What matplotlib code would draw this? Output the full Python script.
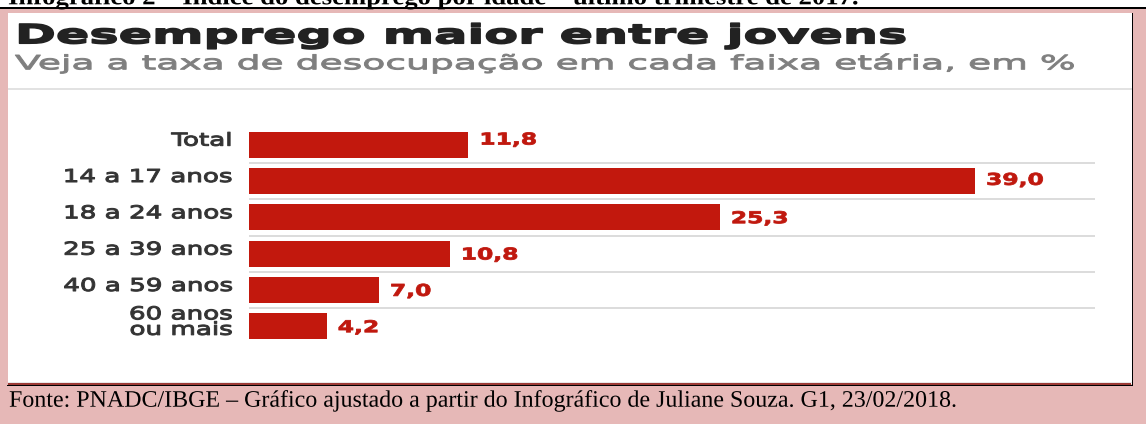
import matplotlib
matplotlib.use("Agg")
import matplotlib.pyplot as plt
from matplotlib.patches import Rectangle
from matplotlib.patheffects import AbstractPathEffect
from matplotlib.transforms import Affine2D, ScaledTranslation

# ---------------- data ----------------
categories = ["Total", "14 a 17 anos", "18 a 24 anos", "25 a 39 anos",
              "40 a 59 anos", "60 anos\nou mais"]
values = [11.8, 39.0, 25.3, 10.8, 7.0, 4.2]
value_labels = ["11,8", "39,0", "25,3", "10,8", "7,0", "4,2"]
title = "Desemprego maior entre jovens"
subtitle = "Veja a taxa de desocupação em cada faixa etária, em %"
source = ("Fonte: PNADC/IBGE – Gráfico ajustado a partir do Infográfico de "
          "Juliane Souza. G1, 23/02/2018.")
header = "Infográfico 2 – Índice do desemprego por idade – último trimestre de 2017."

# ---------------- style ----------------
W, H, DPI = 1146, 424, 100
PINK = "#E6B8B7"
BAR = "#C2180D"
VAL = "#C0180E"


class StretchX(AbstractPathEffect):
    """Draw the glyphs of a text horizontally stretched around its anchor,
    optionally emboldened with a thin outline of the same colour."""

    def __init__(self, text, sx, stroke=0.0):
        super().__init__()
        self.text = text
        self.sx = sx
        self.stroke = stroke

    def draw_path(self, renderer, gc, tpath, affine, rgbFace=None):
        x0 = self.text.get_transform().transform(
            self.text.get_unitless_position())[0]
        t = affine + Affine2D().translate(-x0, 0).scale(self.sx, 1.0).translate(x0, 0)
        if self.stroke > 0 and rgbFace is not None:
            gc0 = renderer.new_gc()
            gc0.copy_properties(gc)
            gc0.set_linewidth(self.stroke)
            gc0.set_foreground(rgbFace)
            gc0.set_joinstyle("round")
            renderer.draw_path(gc0, tpath, t, rgbFace)
            gc0.restore()
        else:
            renderer.draw_path(gc, tpath, t, rgbFace)


fig = plt.figure(figsize=(W / DPI, H / DPI), dpi=DPI)
fig.patch.set_facecolor(PINK)


def rect(x0, y0, x1, y1, color):
    fig.add_artist(Rectangle((x0 / W, 1 - y1 / H), (x1 - x0) / W, (y1 - y0) / H,
                             transform=fig.transFigure, facecolor=color,
                             edgecolor="none", zorder=-10))


def ftext(x, y, s, **kw):
    return fig.text(x / W, 1 - y / H, s, **kw)


# frame pieces
rect(0, 0, W, 7.3, "white")
rect(0, 7.3, W, 9.4, "black")
rect(8, 12.7, 1131.7, 383.5, "white")
rect(8, 88.3, 1131.7, 90.4, "#e2e2e2")
rect(8, 381.7, 1131.7, 383.4, "#e8e8e8")
rect(8, 383.4, 1131, 384.8, "#9b3a35")
rect(7.3, 384.8, 1133, 386.4, "black")
rect(1131.7, 12.7, 1133, 386.4, "black")

# ---------------- axes ----------------
ax_left, ax_right, ax_top, ax_bottom = 248.5, 1095, 126.5, 344.5
ax = fig.add_axes([ax_left / W, 1 - ax_bottom / H,
                   (ax_right - ax_left) / W, (ax_bottom - ax_top) / H])
ax.set_facecolor("none")
n = len(categories)
ypos = list(range(n))
ax.barh(ypos, values, height=0.716, color=BAR, zorder=3)
ax.set_xlim(0, 45.44)
ax.set_ylim(n - 0.5, -0.5)
for i in range(n - 1):
    ax.axhline(i + 0.5, color="#d2d2d2", lw=1.1, zorder=1)
for s in ax.spines.values():
    s.set_visible(False)
ax.set_xticks([])
ax.set_yticks([])

# category labels (baseline of last line placed relative to bar centre)
cat_texts = []
for i, lab in enumerate(categories):
    nl = lab.count("\n")
    down = 1.0 + 7.5 * nl
    tr = ax.get_yaxis_transform() + ScaledTranslation(-15.8 / DPI, -down / DPI,
                                                      fig.dpi_scale_trans)
    t = ax.text(0, i, lab, transform=tr, ha="right", va="baseline",
                fontsize=12.8, color="#333333", family="DejaVu Sans",
                linespacing=0.82)
    cat_texts.append(t)

# value labels
raise_px = [6, 2, 0, 0, 0, 0]
val_texts = []
for i, (v, lab) in enumerate(zip(values, value_labels)):
    tr = ax.transData + ScaledTranslation(11 / DPI, (-5.85 + raise_px[i]) / DPI,
                                          fig.dpi_scale_trans)
    t = ax.text(v, i, lab, transform=tr, ha="left", va="baseline",
                fontsize=11.7, fontweight="bold", color=VAL,
                family="DejaVu Sans")
    val_texts.append(t)

# titles & notes
t_title = ftext(15, 43.3, title, fontsize=19.1, fontweight="bold",
                color="#222222", family="DejaVu Sans", va="baseline")
t_sub = ftext(15, 69.3, subtitle, fontsize=14.1, color="#7f7f7f",
              family="DejaVu Sans", va="baseline")
t_src = ftext(9, 406.7, source, fontsize=17, color="black",
              family="Liberation Serif", va="baseline")
t_head = ftext(8, 4.3, header, fontsize=17, fontweight="bold", color="black",
               family="Liberation Serif", va="baseline")

# horizontal stretch to match the (wide) reference lettering
renderer = fig.canvas.get_renderer()


def natural_w(t):
    return t.get_window_extent(renderer).width


for t, target, stroke in [(t_title, 893, 1.1), (t_sub, 1060, 0.7),
                          (t_src, 948, 0.0), (t_head, 852, 0.0)]:
    t.set_path_effects([StretchX(t, target / natural_w(t), stroke)])

sx_cat = 170 / natural_w(cat_texts[1])
for t in cat_texts:
    t.set_path_effects([StretchX(t, sx_cat, 0.75)])
sx_val = 57.3 / natural_w(val_texts[1])
for t in val_texts:
    t.set_path_effects([StretchX(t, sx_val, 0.6)])

fig.savefig("out.png", dpi=DPI, facecolor=PINK)
